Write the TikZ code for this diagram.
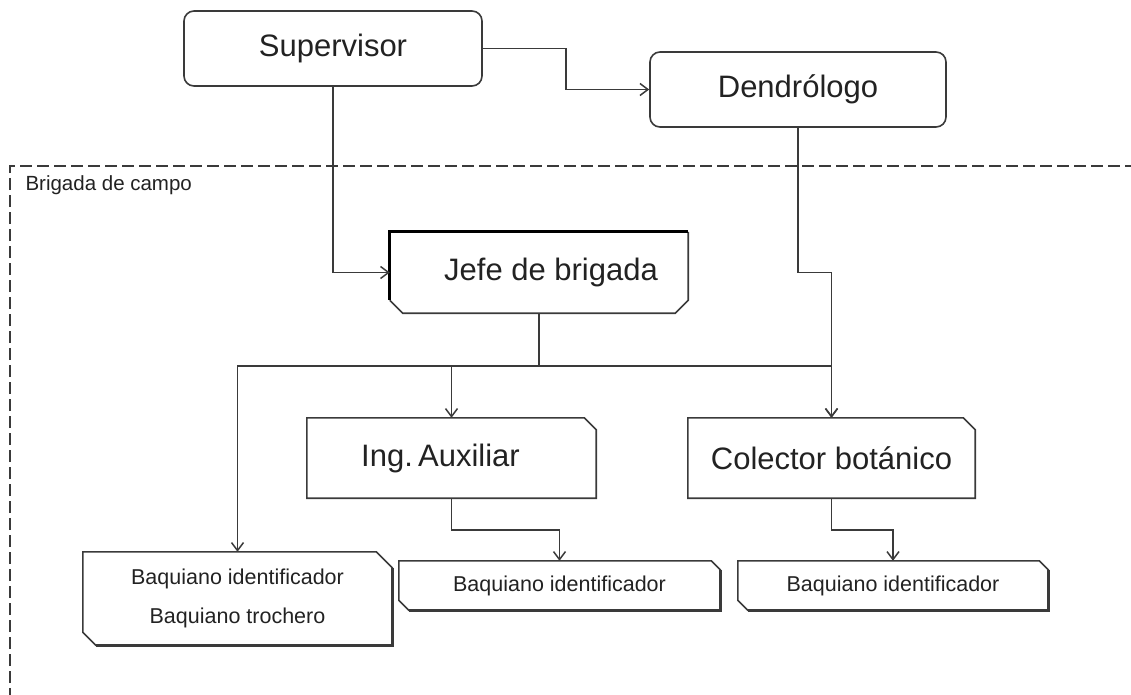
\documentclass[tikz,border=0pt]{standalone}
\usepackage{fontspec}
\setmainfont{Liberation Sans}
\usetikzlibrary{arrows.meta}
\definecolor{ink}{HTML}{222222}
\definecolor{wire}{HTML}{3A3A3A}
\begin{document}
\begin{tikzpicture}[x=1pt,y=-1pt,
  bigtext/.style={font=\fontsize{31}{36}\selectfont, text=ink},
  smalltext/.style={font=\fontsize{21.5}{39}\selectfont, text=ink, align=center},
  rbox/.style={draw=wire, line width=1.6pt, rounded corners=10pt, inner sep=0pt},
  plainbox/.style={draw=none, inner sep=0pt},
  outline/.style={draw=wire, line width=1.6pt, line join=miter},
  heavyedge/.style={draw=black, line width=3pt},
  shade/.style={draw=wire, line width=2.6pt},
  link/.style={draw=wire, line width=1.5pt},
  arr/.style={link, -{Straight Barb[length=8pt,width=12pt,line width=1.5pt]}},
  frame/.style={draw=wire, line width=1.8pt, dash pattern=on 12pt off 5pt}]
\useasboundingbox (0,0) rectangle (1131,694);

% field brigade frame (open to the right and bottom)
\draw[frame] (10,700) -- (10,166) -- (1140,166);
\node[anchor=base west, font=\fontsize{20.5}{22}\selectfont, text=ink] (brig) at (22,190) {Brigada de campo};

% top level
\node[rbox, bigtext, minimum width=298pt, minimum height=75pt] (sup) at (333,48.5) {Supervisor};
\node[rbox, bigtext, minimum width=296pt, minimum height=75pt] (dend) at (798,89.5) {Dendrólogo};

% brigade chief
\node[plainbox, bigtext, minimum width=298pt, minimum height=81pt] (jefe) at (539,272.5) {\hspace*{24pt}Jefe de brigada};
\draw[outline] (jefe.north east) -- ([yshift=13pt]jefe.south east) -- ([xshift=-13pt]jefe.south east)
  -- ([xshift=13pt]jefe.south west) -- ([yshift=13pt]jefe.south west);
\draw[heavyedge] ([yshift=13pt]jefe.south west) -- (jefe.north west) -- (jefe.north east);

% second level
\node[plainbox, bigtext, minimum width=289pt, minimum height=80pt] (ing) at (451.5,458) {Ing.\,Auxiliar\hspace*{22pt}};
\draw[outline] (ing.north west) -- ([xshift=-12pt]ing.north east) -- ([yshift=-12pt]ing.north east)
  -- (ing.south east) -- (ing.south west) -- cycle;
\node[plainbox, bigtext, minimum width=287pt, minimum height=80pt] (col) at (831.5,458) {Colector botánico};
\draw[outline] (col.north west) -- ([xshift=-12pt]col.north east) -- ([yshift=-12pt]col.north east)
  -- (col.south east) -- (col.south west) -- cycle;

% guides
\node[plainbox, smalltext, minimum width=309pt, minimum height=93pt] (bl) at (237.5,598.5) {Baquiano identificador\\Baquiano trochero};
\draw[outline] (bl.north west) -- ([xshift=-16pt]bl.north east) -- ([yshift=-16pt]bl.north east)
  -- (bl.south east) -- ([xshift=13pt]bl.south west) -- ([yshift=13pt]bl.south west) -- cycle;
\draw[shade] ([yshift=-16pt]bl.north east) -- (bl.south east) -- ([xshift=13pt]bl.south west);

\node[plainbox, smalltext, minimum width=321pt, minimum height=49pt] (b2) at (559.5,585.5) {Baquiano identificador};
\draw[outline] (b2.north west) -- ([xshift=-9pt]b2.north east) -- ([yshift=-9pt]b2.north east)
  -- (b2.south east) -- ([xshift=10pt]b2.south west) -- ([yshift=10pt]b2.south west) -- cycle;
\draw[shade] ([yshift=-9pt]b2.north east) -- (b2.south east) -- ([xshift=10pt]b2.south west);

\node[plainbox, smalltext, minimum width=310pt, minimum height=49pt] (b3) at (893,585.5) {Baquiano identificador};
\draw[outline] (b3.north west) -- ([xshift=-9pt]b3.north east) -- ([yshift=-9pt]b3.north east)
  -- (b3.south east) -- ([xshift=10pt]b3.south west) -- ([yshift=10pt]b3.south west) -- cycle;
\draw[shade] ([yshift=-9pt]b3.north east) -- (b3.south east) -- ([xshift=10pt]b3.south west);

% connectors
\coordinate (bus) at (539,366);
\draw[arr] (sup.east) -- ++(83,0) |- (dend.west);
\draw[arr] (sup.south) |- (jefe.west);
\draw[arr] (dend.south) -- (dend.south |- jefe.west) -| (col.north);
\draw[link, line width=1.9pt] (jefe.south) -- (bus);
\draw[arr] (bus) -| (bl.north);
\draw[arr] (bus) -| (ing.north);
\draw[arr] (bus) -| (col.north);
\draw[arr] (ing.south) -- ++(0,32) -| (b2.north);
\draw[arr] (col.south) -- ++(0,32) -| (b3.north);
\end{tikzpicture}
\end{document}
